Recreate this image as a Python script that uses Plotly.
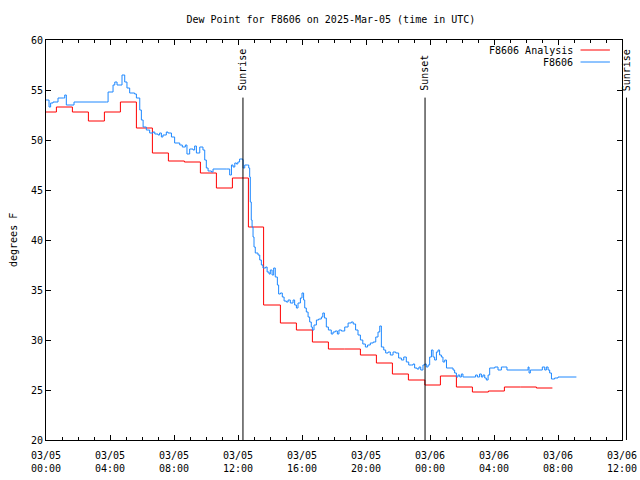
import plotly.graph_objects as go
from datetime import datetime, timedelta

# ---------------- data ----------------
base_time = "2025-03-05 00:00"

obs_hours = [0.00, 0.19, 0.29, 0.44, 0.75, 1.10, 1.17, 1.27, 1.75, 3.77, 3.88, 4.19, 4.30, 4.44, 4.75,
             4.92, 5.06, 5.23, 5.54, 5.65, 5.86, 5.96, 6.07, 6.27, 6.48, 6.69, 6.80, 7.00, 7.10, 7.21,
             7.31, 7.52, 7.62, 7.84, 8.04, 8.36, 8.52, 8.71, 8.81, 8.98, 9.19, 9.29, 9.40, 9.61, 9.81,
             9.92, 10.02, 10.13, 10.34, 10.44, 11.27, 11.48, 11.59, 11.69, 11.80, 11.90, 11.99, 12.10,
             12.30, 12.32, 12.42, 12.60, 12.67, 12.73, 12.77, 12.83, 12.88, 12.94, 13.00, 13.08, 13.25,
             13.36, 13.46, 13.56, 13.73, 13.82, 13.94, 14.02, 14.13, 14.23, 14.33, 14.46, 14.54, 14.65,
             14.77, 14.88, 15.02, 15.13, 15.27, 15.44, 15.54, 15.65, 15.75, 15.90, 16.00, 16.10, 16.17,
             16.27, 16.38, 16.48, 16.58, 16.65, 16.75, 16.90, 17.04, 17.21, 17.30, 17.40, 17.52, 17.65,
             17.83, 17.94, 18.08, 18.21, 18.31, 18.46, 18.67, 18.88, 19.08, 19.20, 19.35, 19.50, 19.65,
             19.80, 19.96, 20.10, 20.27, 20.45, 20.61, 20.75, 20.86, 20.96, 21.11, 21.23, 21.38, 21.52,
             21.69, 21.86, 22.04, 22.21, 22.36, 22.52, 22.67, 22.83, 22.94, 23.04, 23.19, 23.31, 23.42,
             23.56, 23.67, 23.77, 23.88, 23.98, 24.09, 24.19, 24.29, 24.40, 24.50, 24.60, 24.71, 24.81,
             24.92, 25.03, 25.44, 25.54, 25.65, 25.75, 25.86, 25.96, 26.06, 26.85, 26.96, 27.10, 27.21,
             27.31, 27.42, 27.52, 27.63, 27.73, 28.05, 28.25, 28.46, 28.64, 28.81, 30.13, 30.19, 30.27,
             31.02, 31.17, 31.27, 31.38, 31.48, 31.59, 31.79, 32.00, 33.15]
obs_dewpt = [54.0, 53.3, 53.7, 53.8, 54.2, 54.2, 54.5, 53.5, 53.8, 53.8, 54.8, 55.5, 55.8, 55.5, 56.5,
             55.8, 55.2, 54.7, 54.6, 54.2, 53.0, 52.0, 51.3, 51.0, 50.7, 50.8, 50.6, 50.5, 50.7, 50.3,
             50.5, 50.8, 50.7, 50.3, 49.7, 49.5, 49.3, 49.5, 48.6, 49.1, 49.0, 49.4, 48.7, 49.3, 49.0,
             48.0, 47.2, 46.9, 46.8, 47.1, 47.1, 46.5, 47.5, 47.3, 47.7, 47.6, 47.8, 48.1,
             48.0, 47.2, 47.5, 47.5, 47.2, 46.3, 43.8, 42.0, 41.3, 40.3, 39.3, 38.7, 38.5,
             38.0, 37.5, 37.2, 37.3, 36.8, 36.6, 37.0, 36.5, 37.2, 36.3, 35.5, 34.6, 34.7,
             34.3, 33.9, 33.8, 34.0, 33.7, 34.0, 33.5, 33.2, 33.7, 34.2, 34.7, 34.0, 33.2,
             32.8, 32.3, 31.8, 31.3, 31.0, 31.5, 32.0, 32.1, 32.3, 32.7, 32.2, 31.3, 31.0,
             30.6, 30.8, 30.9, 30.6, 31.0, 30.9, 31.3, 31.7, 31.8, 31.6, 31.0, 30.5, 30.0,
             29.6, 29.3, 29.5, 29.7, 29.8, 30.3, 30.8, 31.4, 29.3, 29.0, 28.7, 28.8, 28.5,
             28.8, 28.7, 28.2, 28.0, 28.3, 27.8, 27.5, 27.5, 27.6, 27.2, 27.1, 27.3, 27.0,
             27.5, 27.6, 27.3, 27.5, 28.3, 29.0, 28.3, 28.0, 28.8, 29.0, 28.5, 28.3, 27.8,
             28.0, 27.2, 27.0, 26.7, 26.3, 26.5, 26.3, 26.6, 26.3, 26.5, 26.3, 26.6, 26.3,
             26.5, 26.2, 26.0, 26.5, 27.2, 27.3, 27.0, 27.3, 27.3, 27.0, 27.3, 26.7, 27.0,
             27.3, 27.0, 27.3, 27.0, 26.7, 26.1, 26.2, 26.3, 26.3]

ana_hours = [0.00, 0.65, 1.65, 2.65, 3.65, 4.65, 5.65, 6.65, 7.65, 8.65, 9.65, 10.65, 11.65, 12.65,
             13.60, 14.65, 15.65, 16.65, 17.65, 18.65, 19.65, 20.65, 21.65, 22.65, 23.68, 24.65,
             25.65, 26.65, 27.65, 28.65, 29.65, 30.65, 31.65]
ana_dewpt = [52.8, 53.3, 52.8, 51.9, 52.8, 53.8, 51.2, 48.7, 47.9, 47.8, 46.7, 45.2, 46.2, 41.3,
             33.5, 31.7, 31.0, 29.8, 29.1, 29.1, 28.5, 27.7, 26.6, 26.0, 25.5, 26.4,
             25.3, 24.8, 24.9, 25.3, 25.3, 25.2, 25.2]

event_hours = [12.31, 23.69, 36.28]
event_names = ["Sunrise", "Sunset", "Sunrise"]

tick_hours = [0, 4, 8, 12, 16, 20, 24, 28, 32, 36]
x_range_hours = [0, 36]
y_range = [20, 60]

series_names = ["F8606 Analysis", "F8606"]
series_colors = ["#ff0000", "#1e88ff"]

# ---------------- build ----------------
t0 = datetime.strptime(base_time, "%Y-%m-%d %H:%M")
to_t = lambda h: t0 + timedelta(hours=h)

FONT = "DejaVu Sans Mono"
fig = go.Figure()

fig.add_trace(go.Scatter(x=[to_t(h) for h in ana_hours], y=ana_dewpt, mode="lines",
                         line=dict(color=series_colors[0], width=1, shape="hv"),
                         name=series_names[0], showlegend=False))
fig.add_trace(go.Scatter(x=[to_t(h) for h in obs_hours], y=obs_dewpt, mode="lines",
                         line=dict(color=series_colors[1], width=1, shape="hv"),
                         name=series_names[1], showlegend=False))

span = x_range_hours[1] - x_range_hours[0]
for h, name in zip(event_hours, event_names):
    fx = (h - x_range_hours[0]) / span
    fig.add_shape(type="line", xref="paper", yref="paper", x0=fx, x1=fx, y0=0, y1=0.856,
                  line=dict(color="black", width=1))
    fig.add_annotation(xref="paper", yref="paper", x=fx, y=0.868, text=name, textangle=-90,
                       showarrow=False, xanchor="center", yanchor="bottom",
                       font=dict(family=FONT, size=10, color="black"))

# manual legend (text right, sample line on the right like gnuplot)
legend_rows = [0.975, 0.945]
for name, color, ly in zip(series_names, series_colors, legend_rows):
    fig.add_annotation(xref="paper", yref="paper", x=0.919, y=ly, text=name, showarrow=False,
                       xanchor="right", yanchor="middle", font=dict(family=FONT, size=10, color="black"))
    fig.add_shape(type="line", xref="paper", yref="paper", x0=0.928, x1=0.979, y0=ly, y1=ly,
                  line=dict(color=color, width=1))

fig.add_annotation(xref="paper", yref="paper", x=-0.0573, y=0.5, text="degrees F", textangle=-90,
                   showarrow=False, xanchor="center", yanchor="middle",
                   font=dict(family=FONT, size=10, color="black"))

tickvals = [to_t(h) for h in tick_hours]
ticktext = [to_t(h).strftime("%m/%d") + "<br>" + to_t(h).strftime("%H:%M") for h in tick_hours]

fig.update_layout(
    width=640, height=480,
    margin=dict(l=46, r=18, t=40, b=40, autoexpand=False),
    paper_bgcolor="white", plot_bgcolor="white",
    font=dict(family=FONT, size=10, color="black"),
    title=dict(text="Dew Point for F8606 on 2025-Mar-05 (time in UTC)", x=0.517, xref="container",
               y=0.960, yref="container", xanchor="center", yanchor="middle",
               font=dict(family=FONT, size=10, color="black")),
    showlegend=False,
)
fig.update_xaxes(range=[to_t(x_range_hours[0]), to_t(x_range_hours[1])],
                 tickmode="array", tickvals=tickvals, ticktext=ticktext, ticklabelstandoff=6,
                 ticks="inside", ticklen=5, tickcolor="black", showgrid=False, zeroline=False,
                 showline=True, linecolor="black", linewidth=1, mirror="allticks",
                 minor=dict(dtick=3600000, tick0=to_t(0), ticks="inside", ticklen=3, tickcolor="black",
                            showgrid=False),
                 tickfont=dict(family=FONT, size=10, color="black"))
fig.update_yaxes(range=y_range, dtick=5, tick0=20,
                 ticks="inside", ticklen=5, tickcolor="black", showgrid=False, zeroline=False,
                 showline=True, linecolor="black", linewidth=1, mirror="allticks",
                 tickfont=dict(family=FONT, size=10, color="black"))

fig.write_html("out.html", config={"displayModeBar": False},
               post_script="document.body.style.margin='0';document.body.style.overflow='hidden';")
